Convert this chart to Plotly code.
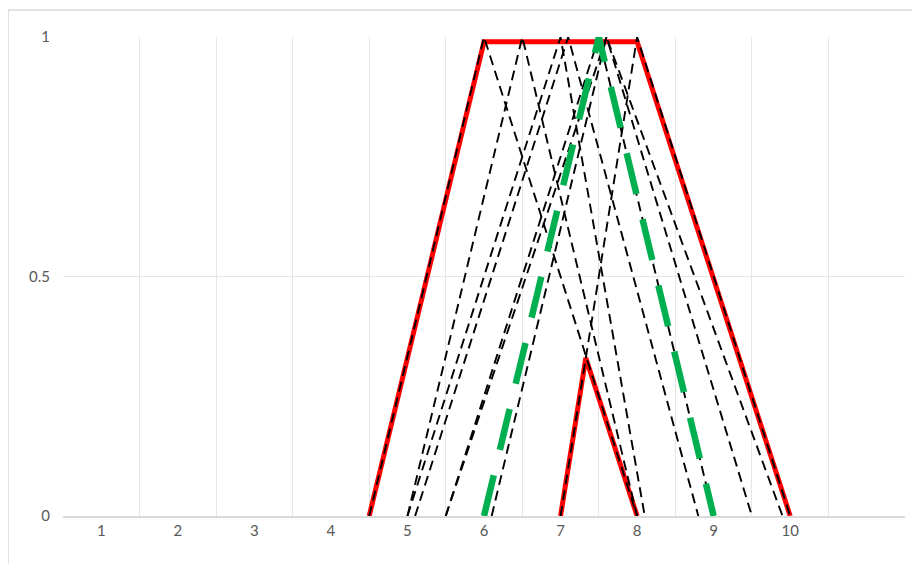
import plotly.graph_objects as go

# triangular fuzzy numbers (left, peak, right)
experts = [
    [4.5, 6.0, 8.0],
    [5.0, 6.5, 8.0],
    [5.0, 7.0, 8.1],
    [5.1, 7.1, 8.8],
    [5.5, 7.5, 9.0],
    [5.5, 7.6, 9.5],
    [6.1, 7.6, 9.9],
    [7.0, 8.0, 10.0],
]
tri_y = [0, 1, 0]

# aggregated result (green)
agg_x = [6.0, 7.5, 9.0]

# envelope (red): upper trapezoid and lower triangle
upper_x = [4.5, 6.0, 8.0, 10.0]
upper_y = [0, 0.99, 0.99, 0]
lower_x = [7.0, 7.33, 8.0]
lower_y = [0, 0.33, 0]

x_ticks = list(range(1, 11))
y_ticks = [0, 0.5, 1]

RED = "#ff0000"
GREEN = "#00b050"
GRID = "#e6e6e6"
AXIS = "#d9d9d9"
TXT = "#595959"

fig = go.Figure()

fig.add_trace(go.Scatter(x=upper_x, y=upper_y, mode="lines",
                         line=dict(color=RED, width=5), showlegend=False))
fig.add_trace(go.Scatter(x=lower_x, y=lower_y, mode="lines",
                         line=dict(color=RED, width=5), showlegend=False))

for tri in experts:
    fig.add_trace(go.Scatter(x=tri, y=tri_y, mode="lines",
                             line=dict(color="black", width=1.9, dash="10px,6px"),
                             showlegend=False))

fig.add_trace(go.Scatter(x=agg_x, y=tri_y, mode="lines",
                         line=dict(color=GREEN, width=6.5, dash="42px,26px"),
                         showlegend=False))

# light outer chart border, Excel style
fig.add_shape(type="rect", xref="paper", yref="paper",
              x0=-0.0653, x1=1.0143, y0=-0.2, y1=1.0564,
              line=dict(color=AXIS, width=1.5), layer="below")

# page adds an 8px body offset, so margins are shifted back by 8px
fig.update_layout(
    width=920,
    height=564,
    margin=dict(l=55, r=23, t=29, b=56),
    plot_bgcolor="white",
    paper_bgcolor="white",
    font=dict(family="Lato, Noto Sans, sans-serif", size=15, color=TXT),
    xaxis=dict(
        range=[0.5, 11.5],
        tickvals=x_ticks,
        ticktext=[str(v) for v in x_ticks],
        showgrid=False,
        zeroline=False,
        showline=True,
        linecolor=AXIS,
        linewidth=1.5,
        ticks="",
        tickfont=dict(size=15, color=TXT),
        minor=dict(tick0=0.5, dtick=1, showgrid=True, gridcolor=GRID, gridwidth=1),
    ),
    yaxis=dict(
        range=[0, 1],
        tickvals=y_ticks,
        ticktext=["0", "0.5", "1"],
        showgrid=True,
        gridcolor=GRID,
        zeroline=False,
        showline=False,
        ticks="",
        ticklabelstandoff=12,
        tickfont=dict(size=15, color=TXT),
    ),
)

fig.write_html("out.html")
